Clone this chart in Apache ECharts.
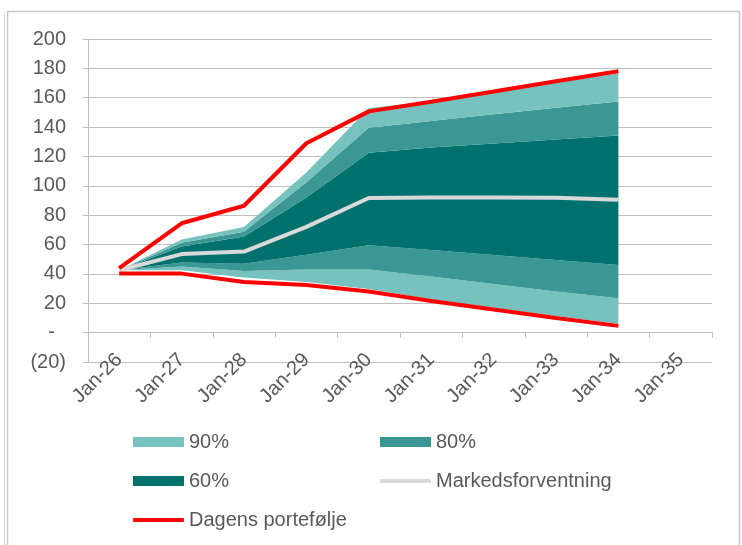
<!DOCTYPE html>
<html>
<head>
<meta charset="utf-8">
<script src="https://cdn.jsdelivr.net/npm/echarts@6/dist/echarts.min.js"></script>
<style>
html,body{margin:0;padding:0;background:#fff;}
#chart{width:742px;height:545px;}
</style>
</head>
<body>
<div id="chart"></div>
<script>
// Categories (x axis)
const categories = ['Jan-26','Jan-27','Jan-28','Jan-29','Jan-30','Jan-31','Jan-32','Jan-33','Jan-34','Jan-35'];
// Band boundaries, Jan-26 .. Jan-34
const upper90 = [42.5, 63.5, 72.0, 109.0, 153.0, 157.5, 164.0, 170.5, 176.5];
const upper80 = [42.5, 61.3, 68.8, 102.5, 139.5, 144.2, 148.7, 153.2, 157.5];
const upper60 = [42.5, 58.6, 65.5, 92.0, 122.5, 126.1, 128.9, 131.6, 134.3];
const markedsforventning = [42.5, 53.5, 55.2, 72.0, 91.7, 92.0, 92.0, 91.8, 90.5];
const lower60 = [42.5, 47.7, 47.0, 53.0, 59.5, 56.3, 52.8, 49.4, 46.1];
const lower80 = [42.5, 45.0, 42.0, 43.0, 43.0, 38.2, 33.1, 28.1, 23.4];
const lower90 = [42.5, 42.5, 37.5, 34.5, 29.8, 22.6, 16.9, 11.3, 5.9];
const dagensUpper = [44.0, 74.5, 86.4, 129.0, 150.7, 157.3, 164.2, 171.2, 178.0];
const dagensLower = [40.2, 40.2, 34.5, 32.5, 28.0, 21.5, 15.7, 10.0, 4.6];
// Y axis ticks
const yMin = -20, yMax = 200, yStep = 20;

const C90 = '#77C1BE', C80 = '#3B9794', C60 = '#00716D', CMED = '#D9D9D9', CRED = '#FF0000';
const FONT = "'Liberation Sans', Arial, sans-serif";
const TXT = '#595959';
const GRIDC = '#BFBFBF';

const GRID_TOP = 39, GRID_BOTTOM = 183, CHART_H = 545;
const plotH = CHART_H - GRID_TOP - GRID_BOTTOM;
// pixel distance from the bottom of the plot (yMin) up to value 0
const zeroOffset = plotH * (0 - yMin) / (yMax - yMin);

const diff = (a, b) => a.map((v, i) => +(v - b[i]).toFixed(3));

function band(name, data, color) {
  return {
    name: name, type: 'line', stack: 'fan', data: data,
    symbol: 'none', lineStyle: { width: 0 }, areaStyle: { color: color, opacity: 1 },
    itemStyle: { color: color }, emphasis: { disabled: true }, z: 2
  };
}

const series = [
  { name: 'base', type: 'line', stack: 'fan', data: lower90, symbol: 'none',
    lineStyle: { width: 0 }, itemStyle: { color: 'transparent' }, emphasis: { disabled: true }, z: 2 },
  band('90%', diff(lower80, lower90), C90),
  band('80%', diff(lower60, lower80), C80),
  band('60%', diff(upper60, lower60), C60),
  band('80%', diff(upper80, upper60), C80),
  band('90%', diff(upper90, upper80), C90),
  { name: 'Markedsforventning', type: 'line', data: markedsforventning, symbol: 'none',
    lineStyle: { color: CMED, width: 4 }, itemStyle: { color: CMED }, z: 5 },
  { name: 'Dagens portefølje', type: 'line', data: dagensUpper, symbol: 'none',
    lineStyle: { color: CRED, width: 4 }, itemStyle: { color: CRED }, z: 6 },
  { name: 'Dagens portefølje', type: 'line', data: dagensLower, symbol: 'none',
    lineStyle: { color: CRED, width: 4 }, itemStyle: { color: CRED }, z: 6 }
];

function leg(name, left, top, h, icon) {
  return {
    data: [{ name: name, icon: icon || 'rect' }], left: left, top: top, padding: 0,
    itemWidth: 51, itemHeight: h, itemGap: 0, selectedMode: false,
    textStyle: { fontSize: 20, color: TXT, fontFamily: FONT }
  };
}

const option = {
  animation: false,
  backgroundColor: '#ffffff',
  textStyle: { fontFamily: FONT },
  grid: { left: 88, right: 30, top: GRID_TOP, bottom: GRID_BOTTOM, containLabel: false },
  xAxis: {
    type: 'category', data: categories, boundaryGap: true, position: 'bottom',
    offset: -zeroOffset,
    axisLine: { show: true, onZero: false, lineStyle: { color: GRIDC, width: 1 } },
    axisTick: { show: true, length: 5, lineStyle: { color: GRIDC } },
    axisLabel: { rotate: 45, fontSize: 20, color: TXT, fontFamily: FONT, margin: 24, interval: 0 },
    splitLine: { show: false }
  },
  yAxis: {
    type: 'value', min: yMin, max: yMax, interval: yStep,
    axisLine: { show: true, lineStyle: { color: GRIDC, width: 1 } },
    axisTick: { show: true, length: 5, lineStyle: { color: GRIDC } },
    axisLabel: { fontSize: 20, color: TXT, fontFamily: FONT, margin: 22,
      formatter: v => v === 0 ? '-  ' : (v < 0 ? '(' + (-v) + ')' : String(v)) },
    splitLine: { show: true, lineStyle: { color: GRIDC, width: 1 } }
  },
  legend: [
    leg('90%', 133, 432, 10),
    leg('80%', 380, 432, 10),
    leg('60%', 133, 471, 10),
    leg('Markedsforventning', 380, 471, 4, 'roundRect'),
    leg('Dagens portefølje', 133, 510, 4, 'roundRect')
  ],
  graphic: [
    { type: 'rect', shape: { x: 7.5, y: 11.5, width: 732, height: 600 },
      style: { fill: 'none', stroke: '#C8C8C8', lineWidth: 1.5 }, silent: true },
    { type: 'line', shape: { x1: 4.5, y1: 11.5, x2: 4.5, y2: 545 },
      style: { stroke: '#D9D9D9', lineWidth: 1 }, silent: true }
  ],
  series: series
};

const chart = echarts.init(document.getElementById('chart'), null, { renderer: 'canvas' });
chart.setOption(option);
</script>
</body>
</html>
